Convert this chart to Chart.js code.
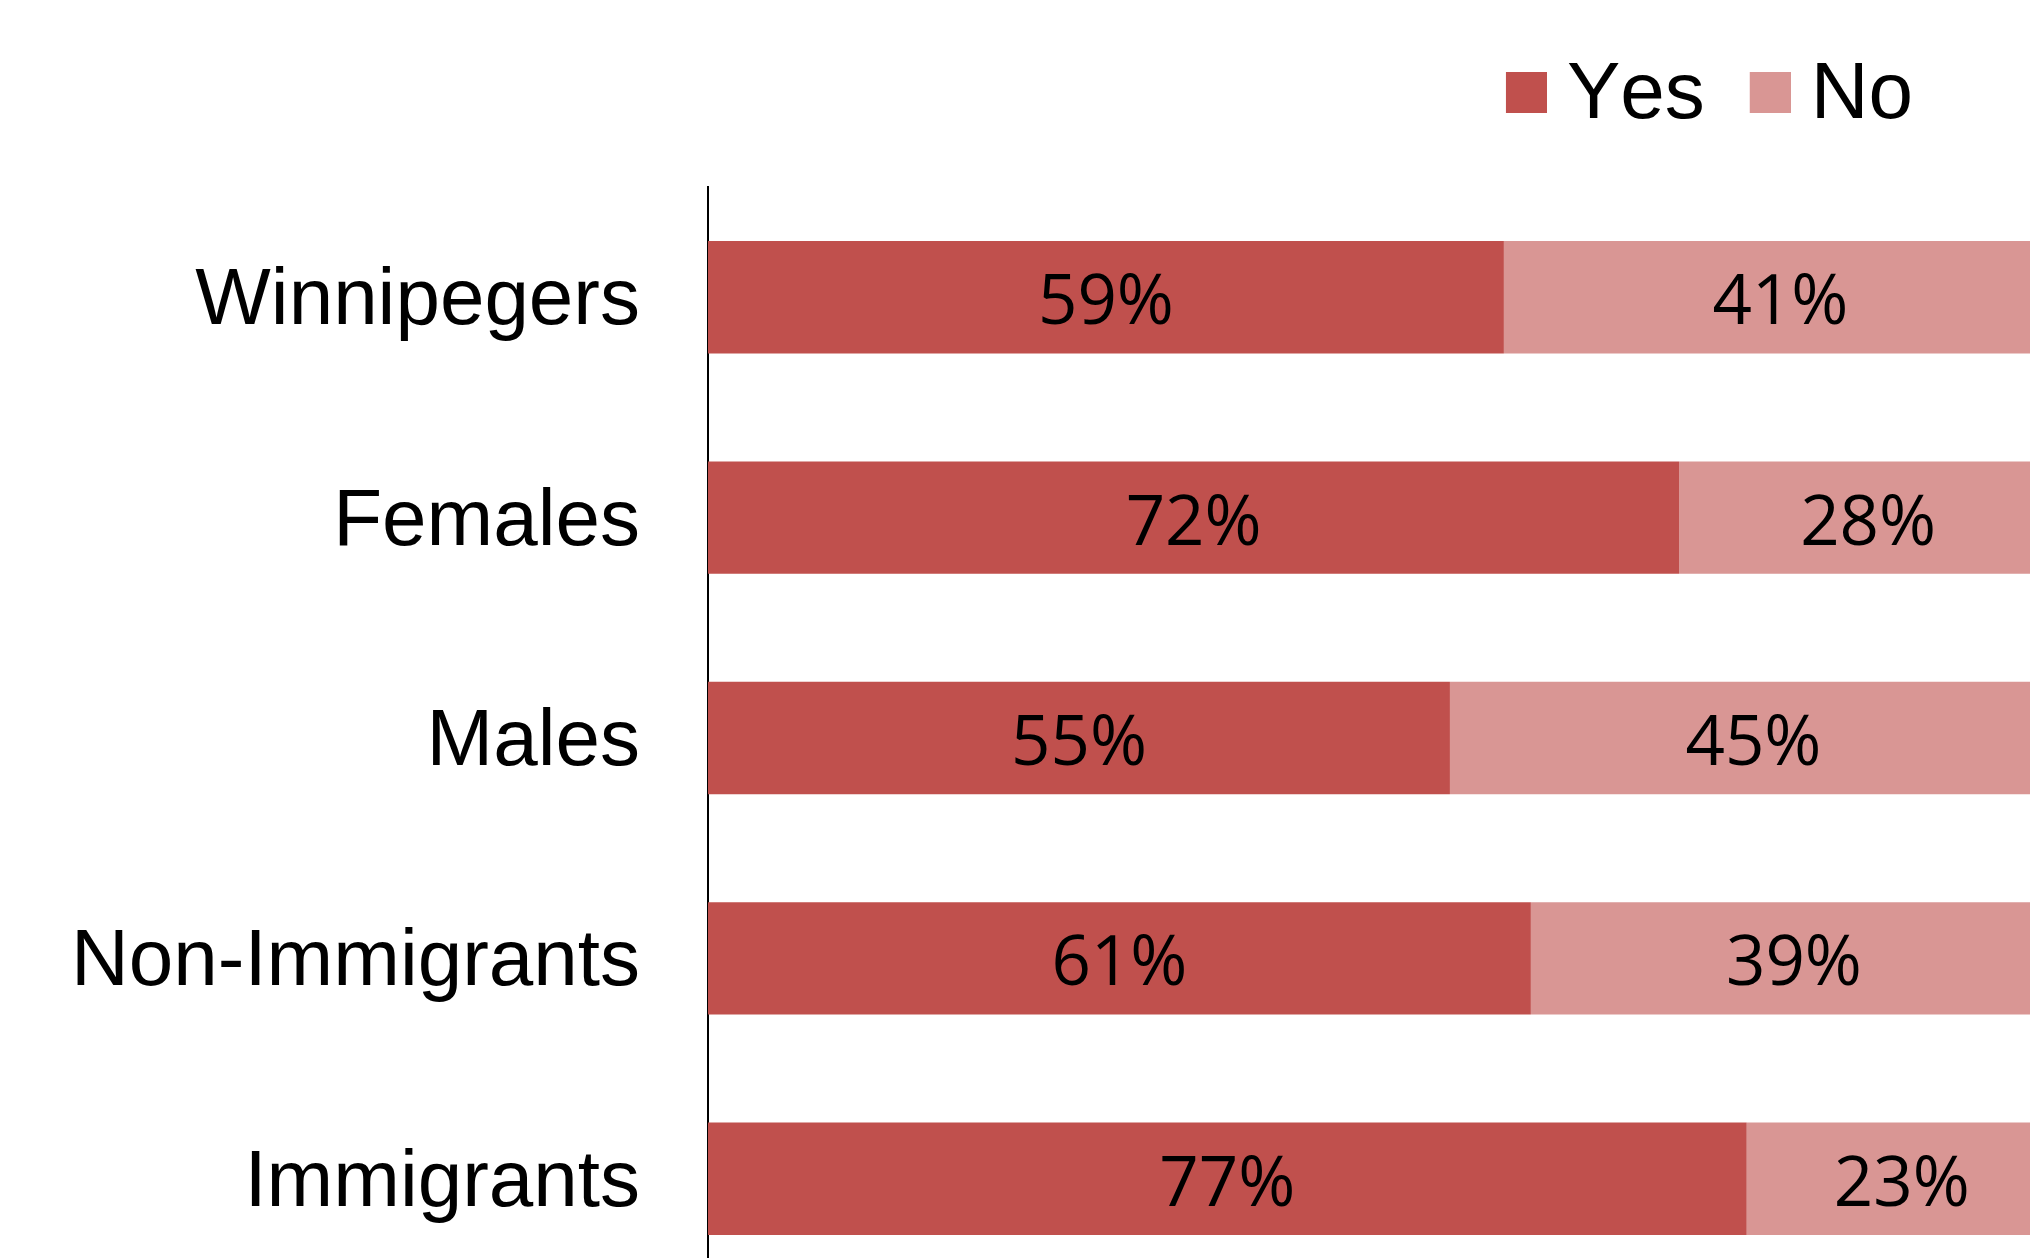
<!DOCTYPE html>
<html>
<head>
<meta charset="utf-8">
<script src="https://cdn.jsdelivr.net/npm/chart.js@4.4.1/dist/chart.umd.min.js"></script>
<style>
  html, body { margin: 0; padding: 0; background: #fff; overflow: hidden; }
  #wrap { width: 2030px; height: 1258px; overflow: hidden; position: relative; }
  canvas { display: block; }
</style>
</head>
<body>
<div id="wrap"><canvas id="c" width="2030" height="1289"></canvas></div>
<script>
// ---- data ----
const categories = ['Winnipegers', 'Females', 'Males', 'Non-Immigrants', 'Immigrants'];
const yesValues = [59, 72, 55, 61, 77];
const noValues = [41, 28, 45, 39, 23];
const seriesNames = ['Yes', 'No'];

// ---- style ----
const YES_COLOR = '#C0504D';
const NO_COLOR = '#D99694';
const X_MAX = 90.07; // the original chart is cropped on the right

function legendSwatch(color) {
  const c = document.createElement('canvas');
  c.width = 96; c.height = 48;
  const g = c.getContext('2d');
  g.fillStyle = color;
  g.fillRect(55, 0, 41, 41);
  return c;
}

const noKerning = {
  id: 'noKerning',
  beforeLayout(chart) { chart.ctx.fontKerning = 'none'; },
  beforeDraw(chart) { chart.ctx.fontKerning = 'none'; }
};

const dataLabels = {
  id: 'dataLabels',
  afterDatasetsDraw(chart) {
    const ctx = chart.ctx;
    ctx.save();
    ctx.font = '69px "Open Sans"';
    ctx.fillStyle = '#000';
    ctx.textAlign = 'center';
    ctx.textBaseline = 'alphabetic';
    chart.data.datasets.forEach((ds, di) => {
      const meta = chart.getDatasetMeta(di);
      meta.data.forEach((el, i) => {
        const p = el.getProps(['x', 'base', 'y'], true);
        ctx.fillText(ds.data[i] + '%', (p.x + p.base) / 2, p.y + 27);
      });
    });
    ctx.restore();
  }
};

new Chart(document.getElementById('c'), {
  type: 'bar',
  data: {
    labels: categories,
    datasets: [
      { label: seriesNames[0], data: yesValues, backgroundColor: YES_COLOR, borderWidth: 0,
        categoryPercentage: 1, barPercentage: 0.51, clip: false },
      { label: seriesNames[1], data: noValues, backgroundColor: NO_COLOR, borderWidth: 0,
        categoryPercentage: 1, barPercentage: 0.51, clip: false }
    ]
  },
  options: {
    indexAxis: 'y',
    responsive: false,
    animation: false,
    devicePixelRatio: 1,
    layout: { padding: { top: 46, right: 107, bottom: 0, left: 0 } },
    plugins: {
      tooltip: { enabled: false },
      legend: {
        position: 'top',
        align: 'end',
        labels: {
          usePointStyle: true,
          boxWidth: 56,
          boxHeight: 41,
          padding: 10,
          color: '#000',
          font: { family: '"Liberation Sans", Arial, sans-serif', size: 80 },
          generateLabels(chart) {
            const items = Chart.defaults.plugins.legend.labels.generateLabels(chart);
            return items.map(it => Object.assign(it, { pointStyle: legendSwatch(it.fillStyle) }));
          }
        }
      }
    },
    scales: {
      x: {
        type: 'linear',
        position: 'top',
        stacked: true,
        min: 0,
        max: X_MAX,
        ticks: { display: false },
        grid: { display: false, drawTicks: false },
        border: { display: false },
        afterFit(scale) { scale.height = 41; scale.paddingLeft = 0; scale.paddingRight = 0; }
      },
      y: {
        stacked: true,
        offset: true,
        ticks: {
          color: '#000',
          padding: 68,
          labelOffset: 5,
          font: { family: '"Liberation Sans", Arial, sans-serif', size: 80 }
        },
        grid: { display: false, drawTicks: false },
        border: { display: true, color: '#000', width: 2 },
        afterFit(scale) { scale.width = 708; scale.paddingTop = 0; scale.paddingBottom = 0; }
      }
    }
  },
  plugins: [noKerning, dataLabels]
});
</script>
</body>
</html>
